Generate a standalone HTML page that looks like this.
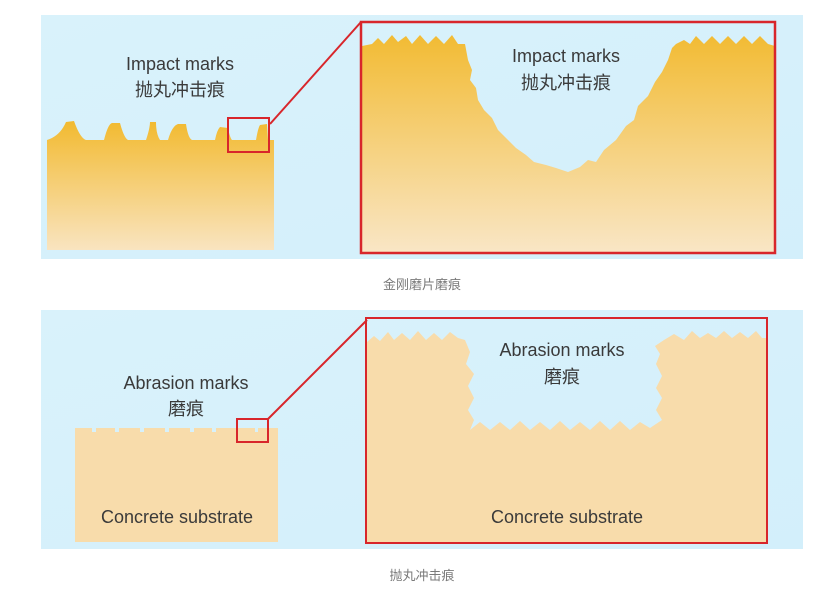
<!DOCTYPE html>
<html><head><meta charset="utf-8"><style>
html,body{margin:0;padding:0;background:#fff;width:831px;height:590px;overflow:hidden}
svg{display:block}
text{font-family:"Liberation Sans","Noto Sans CJK SC",sans-serif;fill:#3a3a3a}
</style></head><body>
<svg width="831" height="590" viewBox="0 0 831 590" xmlns="http://www.w3.org/2000/svg">
<defs>
<linearGradient id="bg" x1="0" y1="0" x2="1" y2="1"><stop offset="0" stop-color="#d9f2fb"/><stop offset="1" stop-color="#d3effb"/></linearGradient>
<linearGradient id="y1" x1="0" y1="0" x2="0" y2="1"><stop offset="0" stop-color="#f2ba30"/><stop offset="1" stop-color="#f9e4c0"/></linearGradient>
<linearGradient id="y2" x1="0" y1="0" x2="0" y2="1"><stop offset="0" stop-color="#f2bb33"/><stop offset="1" stop-color="#f9e6c6"/></linearGradient>
</defs>
<rect x="41" y="15" width="762" height="244" fill="url(#bg)"/>
<rect x="41" y="310" width="762" height="239" fill="url(#bg)"/>

<!-- panel 1 left -->
<path d="M47 140 Q60 136 66 122 L74 121 Q80 138 86 140 L104 140 Q108 124 112 123 L120 123 Q124 138 128 140 L146 140 Q150 128 150 122 L156 122 Q156 134 160 140 L168 140 Q172 126 178 124 L186 124 Q188 138 192 140 L215 140 Q217 130 220 127 L228 128 Q230 138 232 140 L256 140 Q258 128 260 125 L267 124 L268 140 L274 140 L274 250 L47 250 Z" fill="url(#y1)"/>
<text x="180" y="70" font-size="18" text-anchor="middle">Impact marks</text>
<text x="180" y="96" font-size="18" text-anchor="middle">抛丸冲击痕</text>
<rect x="228" y="118" width="41" height="34" fill="none" stroke="#d8262b" stroke-width="2"/>
<line x1="270" y1="124" x2="361" y2="22" stroke="#d8262b" stroke-width="2"/>

<!-- panel 1 right -->
<path d="M362 46 L372 44 L378 38 L384 44 L392 35 L398 42 L406 36 L412 44 L420 35 L428 44 L436 36 L444 44 L452 35 L458 44 L465 44 L468 60 L472 70 L470 80 L476 88 L478 100 L484 110 L492 118 L498 130 L508 140 L516 148 L526 155 L534 162 L546 165 L556 168 L568 172 L580 167 L588 160 L596 162 L604 150 L616 140 L626 126 L634 120 L638 106 L648 96 L655 82 L662 72 L668 60 L672 48 L676 44 L684 40 L690 44 L696 36 L704 44 L712 36 L720 44 L728 36 L736 44 L744 36 L752 44 L760 36 L768 44 L775 46 L775 253 L362 253 Z" fill="url(#y2)"/>
<rect x="361" y="22" width="414" height="231" fill="none" stroke="#d8262b" stroke-width="2.5"/>
<text x="566" y="62" font-size="18" text-anchor="middle">Impact marks</text>
<text x="566" y="89" font-size="18" text-anchor="middle">抛丸冲击痕</text>

<text x="422" y="289" font-size="13" text-anchor="middle" fill="#7a7a7a" style="fill:#7a7a7a">金刚磨片磨痕</text>

<!-- panel 2 left -->
<path d="M75 428 L92 428 L92 432 L96 432 L96 428 L115 428 L115 432 L119 432 L119 428 L140 428 L140 432 L144 432 L144 428 L165 428 L165 432 L169 432 L169 428 L190 428 L190 432 L194 432 L194 428 L212 428 L212 432 L216 432 L216 428 L255 428 L255 432 L258 432 L258 428 L278 428 L278 542 L75 542 Z" fill="#f8dcab"/>
<text x="186" y="389" font-size="18" text-anchor="middle">Abrasion marks</text>
<text x="186" y="415" font-size="18" text-anchor="middle">磨痕</text>
<text x="177" y="523" font-size="18" text-anchor="middle">Concrete substrate</text>
<rect x="237" y="419" width="31" height="23" fill="none" stroke="#d8262b" stroke-width="2"/>
<line x1="268" y1="419" x2="367" y2="320" stroke="#d8262b" stroke-width="2"/>

<!-- panel 2 right -->
<path d="M367 342 L374 336 L380 341 L388 332 L394 340 L402 333 L410 340 L418 331 L426 340 L434 333 L442 340 L450 332 L458 338 L465 340 L470 352 L466 364 L474 374 L468 386 L474 398 L468 410 L474 420 L470 430 L480 422 L490 430 L500 422 L510 430 L520 421 L530 430 L540 422 L550 430 L560 421 L570 430 L580 422 L590 430 L600 421 L610 430 L620 421 L630 430 L640 422 L650 428 L662 420 L656 410 L662 398 L656 388 L662 376 L656 364 L660 354 L655 346 L664 340 L674 334 L684 340 L692 331 L700 338 L708 333 L716 338 L724 331 L732 338 L740 332 L748 338 L756 331 L762 338 L767 338 L767 543 L367 543 Z" fill="#f8dcab"/>
<rect x="366" y="318" width="401" height="225" fill="none" stroke="#d8262b" stroke-width="2"/>
<text x="562" y="356" font-size="18" text-anchor="middle">Abrasion marks</text>
<text x="562" y="383" font-size="18" text-anchor="middle">磨痕</text>
<text x="567" y="523" font-size="18" text-anchor="middle">Concrete substrate</text>

<text x="422" y="580" font-size="13" text-anchor="middle" style="fill:#7a7a7a">抛丸冲击痕</text>
</svg>
</body></html>
